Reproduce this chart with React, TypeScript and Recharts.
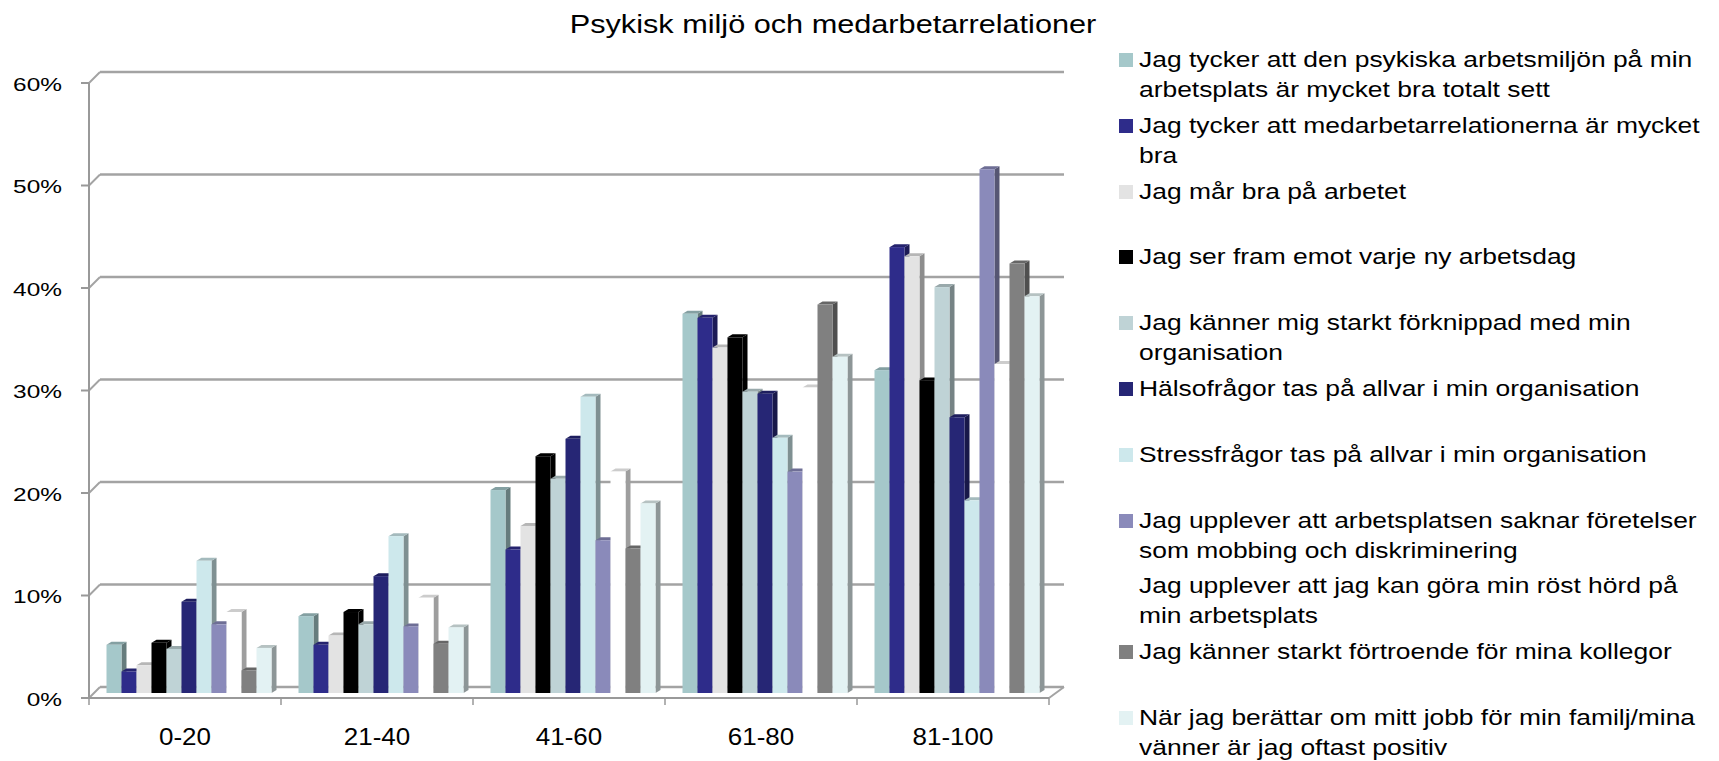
import React from "react";
import { BarChart, Bar, XAxis, YAxis, CartesianGrid } from "recharts";

const categories = ["0-20", "21-40", "41-60", "61-80", "81-100"];

// percent per age group, one array per question
const psykiskMiljo = [4.7, 7.5, 19.8, 37.0, 31.5];
const medarbetarrelationer = [2.1, 4.7, 14.0, 36.6, 43.5];
const marBra = [2.7, 5.6, 16.3, 33.7, 42.6];
const serFram = [4.9, 7.9, 23.1, 34.7, 30.5];
const forknippad = [4.3, 6.7, 20.9, 29.4, 39.6];
const halsofragor = [8.9, 11.4, 24.8, 29.2, 26.9];
const stressfragor = [12.9, 15.3, 28.9, 24.9, 18.8];
const mobbing = [6.7, 6.5, 14.9, 21.6, 51.1];
const rostHord = [7.9, 9.3, 21.6, 29.8, 32.1];
const fortroende = [2.2, 4.8, 14.1, 37.9, 41.9];
const positiv = [4.4, 6.4, 18.5, 32.8, 38.7];

const allSeries = [
  psykiskMiljo, medarbetarrelationer, marBra, serFram, forknippad, halsofragor,
  stressfragor, mobbing, rostHord, fortroende, positiv,
];

const seriesNames = [
  "Jag tycker att den psykiska arbetsmiljön på min\narbetsplats är mycket bra totalt sett",
  "Jag tycker att medarbetarrelationerna är mycket\nbra",
  "Jag mår bra på arbetet",
  "Jag ser fram emot varje ny arbetsdag",
  "Jag känner mig starkt förknippad med min\norganisation",
  "Hälsofrågor tas på allvar i min organisation",
  "Stressfrågor tas på allvar i min organisation",
  "Jag upplever att arbetsplatsen saknar företelser\nsom mobbing och diskriminering",
  "Jag upplever att jag kan göra min röst hörd på\nmin arbetsplats",
  "Jag känner starkt förtroende för mina kollegor",
  "När jag berättar om mitt jobb för min familj/mina\nvänner är jag oftast positiv",
];

const seriesColors = [
  "#A5C8CA", "#2E2C8A", "#E3E3E3", "#000000", "#BFD3D6", "#262675",
  "#CDE8EC", "#8A8ABA", "#FFFFFF", "#808080", "#E3F2F3",
];

const yTicks = [0, 10, 20, 30, 40, 50, 60];

const data = categories.map((name, i) => {
  const row: Record<string, string | number> = { name };
  allSeries.forEach((s, k) => (row[`s${k}`] = s[i]));
  return row;
});

const FONT = "'Liberation Sans', Arial, sans-serif";
const PLOT_LEFT = 89;
const PLOT_TOP = 83;
const PLOT_BOTTOM = 698;
const CHART_W = 1080;
const CHART_H = 761;
const PLOT_W = 960;
const BAND = PLOT_W / categories.length;
const DEPTH_X = 11;
const DEPTH_Y = 11;

const shade = (hex: string, f: number) => {
  const n = parseInt(hex.slice(1), 16);
  const r = Math.round(((n >> 16) & 255) * f);
  const g = Math.round(((n >> 8) & 255) * f);
  const b = Math.round((n & 255) * f);
  return `rgb(${r},${g},${b})`;
};

function Bar3D(props: any) {
  const { x, y, width, height, color } = props;
  if (!height) return null;
  const X = x + 3.5;
  const Y = y - 5;
  const B = Y + height;
  const dx = 5;
  const dy = 3;
  return (
    <g>
      <polygon
        points={`${X + width},${Y} ${X + width + dx},${Y - dy} ${X + width + dx},${B - dy} ${X + width},${B}`}
        fill={shade(color, 0.62)}
      />
      <polygon
        points={`${X},${Y} ${X + dx},${Y - dy} ${X + width + dx},${Y - dy} ${X + width},${Y}`}
        fill={shade(color, 0.8)}
      />
      <rect x={X} y={Y} width={width} height={height} fill={color} />
    </g>
  );
}

function gridLine(p: any) {
  const bottom = p.y + p.height;
  const isFloor = Math.abs(p.y1 - bottom) < 1;
  return (
    <g key={p.key}>
      <line x1={p.x1} y1={p.y1} x2={p.x1 + DEPTH_X} y2={p.y1 - DEPTH_Y} stroke="#A3A3A3" strokeWidth={2} />
      <line
        x1={p.x1 + DEPTH_X}
        y1={p.y1 - DEPTH_Y}
        x2={p.x2 + DEPTH_X + 4}
        y2={p.y2 - DEPTH_Y}
        stroke="#A3A3A3"
        strokeWidth={2.6}
      />
      {isFloor && (
        <line x1={p.x2} y1={p.y2} x2={p.x2 + DEPTH_X + 4} y2={p.y2 - DEPTH_Y} stroke="#A3A3A3" strokeWidth={2} />
      )}
    </g>
  );
}

function YTick(props: any) {
  const { y, payload } = props;
  return (
    <g>
      <line x1={PLOT_LEFT - 8} y1={y} x2={PLOT_LEFT} y2={y} stroke="#999" strokeWidth={2} />
      <text
        transform={`translate(62 ${y + 1}) scale(1.32 1)`}
        textAnchor="end"
        dy="0.36em"
        fontSize={18.5}
        fontFamily={FONT}
        fill="#000"
      >
        {payload.value}%
      </text>
    </g>
  );
}

function XTick(props: any) {
  const { x, payload, index } = props;
  return (
    <g>
      <line x1={x - BAND / 2} y1={PLOT_BOTTOM} x2={x - BAND / 2} y2={PLOT_BOTTOM + 7} stroke="#999" strokeWidth={1.5} />
      {index === categories.length - 1 && (
        <line x1={x + BAND / 2} y1={PLOT_BOTTOM} x2={x + BAND / 2} y2={PLOT_BOTTOM + 7} stroke="#999" strokeWidth={1.5} />
      )}
      <text
        transform={`translate(${x} 745) scale(1.13 1)`}
        textAnchor="middle"
        fontSize={23}
        fontFamily={FONT}
        fill="#000"
      >
        {payload.value}
      </text>
    </g>
  );
}

function Legend3D() {
  return (
    <div style={{ position: "absolute", left: 1119, top: 45, fontFamily: FONT }}>
      {seriesNames.map((name, i) => (
        <div key={name} style={{ position: "absolute", top: i * 65.8, left: 0, width: 600 }}>
          <div
            style={{
              position: "absolute",
              left: 0,
              top: 8,
              width: 14,
              height: 14,
              background: seriesColors[i],
            }}
          />
          <div
            style={{
              position: "absolute",
              left: 20,
              top: 0,
              fontSize: 22,
              lineHeight: "30px",
              whiteSpace: "pre",
              color: "#000",
              transform: "scaleX(1.2)",
              transformOrigin: "left top",
            }}
          >
            {name}
          </div>
        </div>
      ))}
    </div>
  );
}

export default function App() {
  return (
    <div style={{ position: "absolute", left: 0, top: 0, width: 1719, height: 761, background: "#fff" }}>
      <svg width={1719} height={60} style={{ position: "absolute", left: 0, top: 0 }}>
        <text
          transform="translate(833 33) scale(1.18 1)"
          textAnchor="middle"
          fontSize={26}
          fontFamily={FONT}
          fill="#000"
        >
          Psykisk miljö och medarbetarrelationer
        </text>
      </svg>
      <div style={{ position: "absolute", left: 0, top: 0 }}>
        <BarChart
          width={CHART_W}
          height={CHART_H}
          data={data}
          margin={{ top: PLOT_TOP, right: CHART_W - PLOT_LEFT - PLOT_W, bottom: 0, left: 0 }}
          barSize={15}
          barGap={0}
        >
          <CartesianGrid vertical={false} horizontal={gridLine} />
          <XAxis
            dataKey="name"
            height={CHART_H - PLOT_BOTTOM}
            axisLine={{ stroke: "#999", strokeWidth: 2 }}
            tickLine={false}
            tick={<XTick />}
            interval={0}
          />
          <YAxis
            width={PLOT_LEFT}
            domain={[0, 60]}
            ticks={yTicks}
            interval={0}
            axisLine={{ stroke: "#999", strokeWidth: 2 }}
            tickLine={false}
            tick={<YTick />}
          />
          {seriesNames.map((name, k) => (
            <Bar
              key={name}
              dataKey={`s${k}`}
              name={name}
              fill={seriesColors[k]}
              isAnimationActive={false}
              shape={(p: any) => <Bar3D {...p} color={seriesColors[k]} />}
            />
          ))}
        </BarChart>
      </div>
      <Legend3D />
    </div>
  );
}
